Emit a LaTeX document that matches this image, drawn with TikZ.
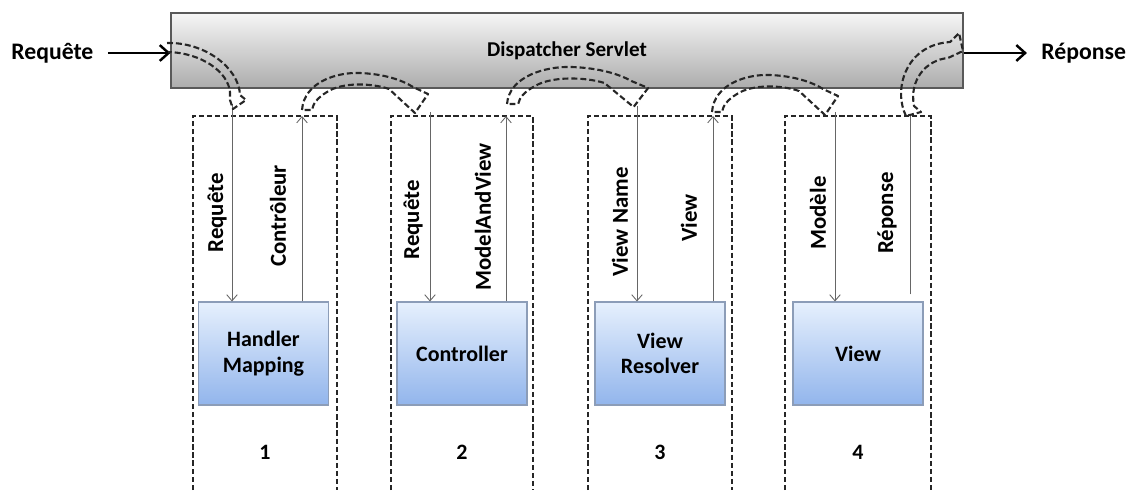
\documentclass[tikz,border=0pt]{standalone}
\usepackage{fontspec}
\setmainfont{Carlito}
\usetikzlibrary{arrows.meta}

\definecolor{boxtop}{HTML}{E6F0FD}
\definecolor{boxbot}{HTML}{92B5EC}
\definecolor{boxline}{HTML}{8C9DB8}
\definecolor{dstop}{HTML}{F6F6F6}
\definecolor{dsbot}{HTML}{ACACAC}

\begin{document}
\begin{tikzpicture}[x=0.02cm, y=-0.02cm,
  ds/.style={draw=black!65, line width=0.8pt, top color=dstop, bottom color=dsbot,
    minimum width=15.84cm, minimum height=1.5cm, font=\fontsize{12}{14}\selectfont\bfseries},
  comp/.style={draw=boxline, line width=0.6pt, top color=boxtop, bottom color=boxbot,
    minimum width=2.6cm, minimum height=2.06cm, align=center,
    font=\fontsize{12.5}{14.5}\selectfont\bfseries},
  io/.style={inner sep=0pt, font=\fontsize{13.5}{15}\selectfont\bfseries},
  num/.style={font=\fontsize{12.5}{14}\selectfont\bfseries},
  lab/.style={rotate=90, font=\fontsize{13}{15}\selectfont\bfseries},
  frame/.style={draw=black!85, line width=1pt, dash pattern=on 3pt off 1.6pt},
  bigarrow/.style={draw=black!85, line width=1.2pt, dash pattern=on 3.4pt off 1.7pt, line join=round},
  msg/.style={draw=black!60, line width=0.5pt},
  msgarrow/.style={msg, -{Straight Barb[length=3.5pt,width=6pt]}},
  entry/.style={line width=1.4pt, -{Straight Barb[length=5pt,width=9pt]}},
]
\useasboundingbox (0,0) rectangle (1132,490);

% Dispatcher servlet and the outside world
\node[ds] (ds) at (567,50.5) {Dispatcher Servlet};
\node[io, anchor=west] (req) at (11,53) {Requête};
\node[io, anchor=west] (rep) at (1041,53) {Réponse};
\draw[entry, shorten <=8pt] (req.east) -- (req.east -| ds.west);
\draw[entry, shorten >=8pt] (rep.west -| ds.east) -- (rep.west);

% Dashed frames (open at the bottom)
\draw[frame] (193,490) -- (193,116) -- (337,116) -- (337,490);
\draw[frame] (391,490) -- (391,116) -- (533,116) -- (533,490);
\draw[frame] (588,490) -- (588,116) -- (732,116) -- (732,490);
\draw[frame] (785,490) -- (785,116) -- (931,116) -- (931,490);

% Components
\node[comp] (hm) at (263.5,353.5) {Handler\\Mapping};
\node[comp] (ctrl) at (462,353.5) {Controller};
\node[comp] (vr) at (660,353.5) {View\\Resolver};
\node[comp] (vw) at (858,353.5) {View};

\node[num] (n1) at (265,452) {1};
\node[num] (n2) at (462,452) {2};
\node[num] (n3) at (660,452) {3};
\node[num] (n4) at (858,452) {4};

% Calls in and out of each component
\coordinate (in1) at (232,104);  \coordinate (out1) at (302,116);
\coordinate (in2) at (430,112);  \coordinate (out2) at (506,116);
\coordinate (in3) at (637,106);  \coordinate (out3) at (713,116);
\coordinate (in4) at (835,112);  \coordinate (out4) at (910,116);

\draw[msgarrow] (in1) -- (in1 |- hm.north);
\draw[msgarrow] (out1 |- hm.north) -- (out1);
\draw[msgarrow] (in2) -- (in2 |- ctrl.north);
\draw[msgarrow] (out2 |- ctrl.north) -- (out2);
\draw[msgarrow] (in3) -- (in3 |- vr.north);
\draw[msgarrow] (out3 |- vr.north) -- (out3);
\draw[msgarrow] (in4) -- (in4 |- vw.north);
\draw[msg] ([yshift=4pt]out4 |- vw.north) -- (out4);

% Labels
\node[lab] (q1) at (217,213) {Requête};
\node[lab] (c1) at (278,216) {Contrôleur};
\node[lab] (q2) at (413,220) {Requête};
\node[lab] (mv) at (483,217) {ModelAndView};
\node[lab] (vn) at (620,222) {View Name};
\node[lab] (v3) at (689,218) {View};
\node[lab] (md) at (818,213) {Modèle};
\node[lab] (r4) at (887,213) {Réponse};

% Curved hollow arrows through the dispatcher
\draw[bigarrow] (167,43) .. controls (205,42) and (239,68) .. (240,95) -- (246,100)
  -- (233,109) -- (230,100) -- (230,92) .. controls (228,72) and (202,53) .. (168,52);

\begin{scope}[shift={(302,110)}]
  \draw[bigarrow] (0,0) .. controls (2,-28) and (35,-38) .. (58,-37)
    .. controls (82,-36) and (100,-30) .. (111,-23) -- (126,-16) -- (113,3) -- (87,-21)
    .. controls (70,-27) and (40,-28) .. (25,-18) .. controls (15,-12) and (11,-6) .. (10,0) -- cycle;
\end{scope}
\begin{scope}[shift={(507,104)}, xscale=1.12]
  \draw[bigarrow] (0,0) .. controls (2,-28) and (35,-38) .. (58,-37)
    .. controls (82,-36) and (100,-30) .. (111,-23) -- (126,-16) -- (113,3) -- (87,-21)
    .. controls (70,-27) and (40,-28) .. (25,-18) .. controls (15,-12) and (11,-6) .. (10,0) -- cycle;
\end{scope}
\begin{scope}[shift={(712,112)}]
  \draw[bigarrow] (0,0) .. controls (2,-28) and (35,-38) .. (58,-37)
    .. controls (82,-36) and (100,-30) .. (111,-23) -- (126,-16) -- (113,3) -- (87,-21)
    .. controls (70,-27) and (40,-28) .. (25,-18) .. controls (15,-12) and (11,-6) .. (10,0) -- cycle;
\end{scope}

\draw[bigarrow] (906,116) .. controls (893,90) and (905,45) .. (950,42) -- (959,33)
  -- (963,51) -- (948,58) .. controls (926,60) and (909,80) .. (914,106) -- (921,112) -- cycle;

\end{tikzpicture}
\end{document}
